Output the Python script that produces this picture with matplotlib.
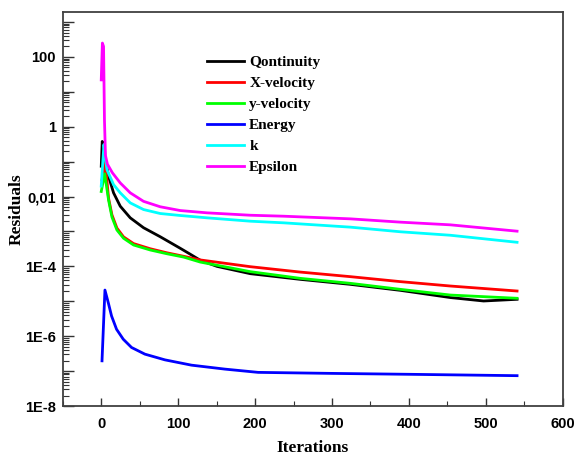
import numpy as np
import matplotlib
matplotlib.use("Agg")
import matplotlib.pyplot as plt
from matplotlib.ticker import FixedLocator, FuncFormatter, MultipleLocator

# values (iteration, residual)
cont_it = [0, 1.3, 3, 9.5, 16, 24.7, 37.7, 55, 76.7, 102.7, 115.6, 128.7, 150.5,
           193.8, 258.8, 323.8, 388.8, 453.8, 497.1, 540.6]
cont_res = [0.074, 0.38, 0.22, 0.038, 0.0128, 5.3e-3, 2.46e-3, 1.28e-3, 7.06e-4, 3.3e-4,
            2.24e-4, 1.5e-4, 1.0e-4, 6.18e-5, 4.25e-5, 3.06e-5, 2.06e-5, 1.28e-5,
            1.02e-5, 1.14e-5]

xvel_it = [1, 5.2, 9.5, 13.9, 20.4, 29, 42, 63.7, 85.4, 107, 128.7, 193.8, 258.8,
           323.8, 388.8, 453.8, 540.6]
xvel_res = [0.03, 0.092, 9.0e-3, 3.0e-3, 1.25e-3, 7.0e-4, 4.5e-4, 3.2e-4, 2.45e-4,
            1.95e-4, 1.53e-4, 9.8e-5, 6.87e-5, 5.08e-5, 3.66e-5, 2.74e-5, 1.97e-5]

yvel_it = [0, 4.5, 9.5, 13.9, 20.4, 29, 42, 63.7, 85.4, 107, 128.7, 193.8, 258.8,
           323.8, 388.8, 453.8, 540.6]
yvel_res = [0.014, 0.045, 8.0e-3, 2.6e-3, 1.1e-3, 6.4e-4, 4.1e-4, 2.95e-4, 2.3e-4,
            1.85e-4, 1.33e-4, 7.06e-5, 4.54e-5, 3.27e-5, 2.2e-5, 1.51e-5, 1.22e-5]

energy_it = [1, 4.8, 9.1, 13.4, 19.9, 28.6, 39.4, 56.8, 82.8, 117.4, 160.9, 204, 300,
             400, 540.6]
energy_res = [1.97e-7, 2.1e-5, 9.2e-6, 3.8e-6, 1.58e-6, 8.2e-7, 4.75e-7, 3.06e-7, 2.1e-7,
              1.48e-7, 1.14e-7, 9.2e-8, 8.6e-8, 8.1e-8, 7.4e-8]

k_it = [0, 3.5, 5, 7.4, 16, 24.7, 37.7, 55, 76.7, 102.7, 137.5, 193.8, 237, 324, 389,
        453.8, 540.6]
k_res = [0.02, 0.31, 0.15, 0.059, 0.022, 0.0128, 6.6e-3, 4.25e-3, 3.27e-3, 2.87e-3,
         2.46e-3, 1.97e-3, 1.77e-3, 1.33e-3, 9.8e-4, 7.8e-4, 4.9e-4]

eps_it = [0, 1.5, 3, 4.2, 5.5, 8, 14.5, 24.7, 37.7, 55, 76.7, 102.7, 137.5, 193.8, 237,
          324, 389, 453.8, 540.6]
eps_res = [22, 250, 200, 1.5, 0.15, 0.085, 0.048, 0.0246, 0.0128, 7.3e-3, 5.1e-3,
           3.98e-3, 3.42e-3, 2.92e-3, 2.74e-3, 2.3e-3, 1.85e-3, 1.55e-3, 1.02e-3]

y_labels = {-8: "1E-8", -6: "1E-6", -4: "1E-4", -2: "0,01", 0: "1", 2: "100"}

fig = plt.figure(figsize=(5.76, 4.58), dpi=100)
ax = fig.add_axes([0.109, 0.1135, 0.868, 0.8605])

lw = 2.0
ax.plot(cont_it, cont_res, color="black", lw=lw, label="Qontinuity")
ax.plot(xvel_it, xvel_res, color="#ff0000", lw=lw, label="X-velocity")
ax.plot(yvel_it, yvel_res, color="#00ff00", lw=lw, label="y-velocity")
ax.plot(energy_it, energy_res, color="#0000ff", lw=lw, label="Energy")
ax.plot(k_it, k_res, color="#00ffff", lw=lw, label="k")
ax.plot(eps_it, eps_res, color="#ff00ff", lw=lw, label="Epsilon")

ax.set_yscale("log")
ax.set_xlim(-50, 600)
ax.set_ylim(1e-8, 1950)

ax.yaxis.set_major_locator(FixedLocator(10.0 ** np.arange(-8, 4)))
ax.yaxis.set_major_formatter(FuncFormatter(
    lambda v, p: y_labels.get(int(round(np.log10(v))), "")))
minor = [m * 10.0 ** e for e in range(-8, 4) for m in range(2, 10)]
ax.yaxis.set_minor_locator(FixedLocator(minor))
ax.xaxis.set_major_locator(MultipleLocator(100))
ax.xaxis.set_minor_locator(MultipleLocator(50))

ax.tick_params(which="both", direction="in", top=False, right=False, color="#333333")
ax.tick_params(axis="y", which="major", length=8, width=1, pad=5)
ax.tick_params(axis="y", which="minor", length=4, width=0.8)
ax.tick_params(axis="x", which="major", length=6, width=1, pad=8)
ax.tick_params(axis="x", which="minor", length=3.5, width=0.8)
for lab in ax.get_xticklabels() + ax.get_yticklabels():
    lab.set_fontfamily("Liberation Sans")
    lab.set_fontweight("bold")
    lab.set_fontsize(10.5)

for s in ax.spines.values():
    s.set_color("#404040")
    s.set_linewidth(1.3)

ax.set_xlabel("Iterations", family="Liberation Serif", weight="bold", fontsize=12.5)
ax.set_ylabel("Residuals", family="Liberation Serif", weight="bold", fontsize=12.5)
ax.xaxis.set_label_coords(0.5, -0.086)
ax.yaxis.set_label_coords(-0.077, 0.5)

ax.legend(loc="upper left", bbox_to_anchor=(0.288, 0.89), frameon=False,
          prop={"family": "Liberation Serif", "weight": "bold", "size": 11},
          handlelength=2.45, handletextpad=0.33, labelspacing=0.48,
          borderpad=0, borderaxespad=0)

fig.savefig("out.png", dpi=100)
